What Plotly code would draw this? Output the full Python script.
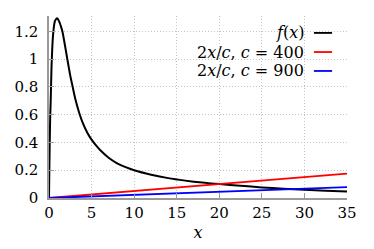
import plotly.graph_objects as go

# f(x)
fx = [0, 0.03, 0.08, 0.14, 0.2, 0.25, 0.3, 0.35, 0.4, 0.5, 0.6, 0.7, 0.8, 0.9, 1.0, 1.1,
      1.25, 1.4, 1.57, 1.8, 2.15, 2.5, 2.78, 3.1, 3.56, 4, 4.5, 5, 5.5, 6, 7, 8, 9, 10,
      12, 14, 16, 18, 20, 22.5, 25, 27.5, 30, 32.5, 35]
fy = [0, 0.15, 0.38, 0.58, 0.7, 0.83, 0.95, 1.03, 1.1, 1.19, 1.245, 1.275, 1.285, 1.293, 1.292, 1.282,
      1.262, 1.235, 1.2, 1.125, 1.0, 0.88, 0.8, 0.71, 0.61, 0.535, 0.47, 0.42, 0.38, 0.345, 0.29, 0.25, 0.222, 0.2,
      0.168, 0.143, 0.125, 0.111, 0.1, 0.088, 0.076, 0.067, 0.06, 0.053, 0.047]

# straight lines 2x/c
line_x = [0, 35]
red_y = [0, 0.175]    # c = 400
blue_y = [0, 0.0778]  # c = 900

names = ["<i>f</i>(<i>x</i>)",
         "2<i>x</i>/<i>c</i>, <i>c</i> = 400",
         "2<i>x</i>/<i>c</i>, <i>c</i> = 900"]
colors = ["black", "red", "blue"]

x_ticks = [0, 5, 10, 15, 20, 25, 30, 35]
y_ticks = [0, 0.2, 0.4, 0.6, 0.8, 1, 1.2]
y_tick_labels = ["0", "0.2", "0.4", "0.6", "0.8", "1", "1.2"]

FONT = "DejaVu Serif, DejaVu Sans"
FS = 15
LFS = 16
GRID = "#c4c4c4"
GDASH = "1px,2px"

fig = go.Figure()
fig.add_trace(go.Scatter(x=fx, y=fy, mode="lines", line=dict(color=colors[0], width=2, shape="spline", smoothing=0.6),
                         showlegend=False))
fig.add_trace(go.Scatter(x=line_x, y=red_y, mode="lines", line=dict(color=colors[1], width=1.8), showlegend=False))
fig.add_trace(go.Scatter(x=line_x, y=blue_y, mode="lines", line=dict(color=colors[2], width=1.8), showlegend=False))

# legend box (text right, sample on the right)
shapes = [dict(type="rect", xref="paper", yref="paper", x0=0.413, x1=0.977, y0=0.637, y1=0.951,
               fillcolor="white", line=dict(width=0), layer="between")]
annotations = []
rows_y = [0.907, 0.802, 0.698]
for name, col, ry in zip(names, colors, rows_y):
    annotations.append(dict(text=name, x=0.859, y=ry, xref="paper", yref="paper", xanchor="right",
                            yanchor="middle", showarrow=False, borderpad=0,
                            font=dict(family=FONT, size=LFS, color="black")))
    shapes.append(dict(type="line", xref="paper", yref="paper", x0=0.889, x1=0.950, y0=ry, y1=ry,
                       line=dict(color=col, width=1.8)))

# the page body has an 8px margin, so the figure is drawn 8px smaller with its plot area
# placed where the reference shows it
fig.update_layout(
    width=366, height=241,
    margin=dict(l=41, r=27, t=8, b=51),
    paper_bgcolor="white", plot_bgcolor="white",
    font=dict(family=FONT, size=FS, color="black"),
    shapes=shapes, annotations=annotations,
    showlegend=False,
)
fig.update_xaxes(range=[0, 35], tickvals=x_ticks, ticktext=[str(v) for v in x_ticks],
                 tickfont=dict(family=FONT, size=FS), automargin=False,
                 showgrid=True, gridcolor=GRID, griddash=GDASH, gridwidth=1,
                 showline=True, linecolor="#999999", linewidth=1.5, zeroline=False,
                 ticks="inside", ticklen=5, tickcolor="#999999", tickwidth=1.2,
                 title=dict(text="<i>x</i>", standoff=6, font=dict(family=FONT, size=LFS)))
fig.update_yaxes(range=[0, 1.31], tickvals=y_ticks, ticktext=y_tick_labels,
                 tickfont=dict(family=FONT, size=FS), automargin=False,
                 showgrid=True, gridcolor=GRID, griddash=GDASH, gridwidth=1,
                 showline=True, linecolor="#999999", linewidth=1.5, zeroline=False,
                 ticks="inside", ticklen=5, tickcolor="#999999", tickwidth=1.2,
                 ticklabelstandoff=6)

fig.write_html("out.html")
